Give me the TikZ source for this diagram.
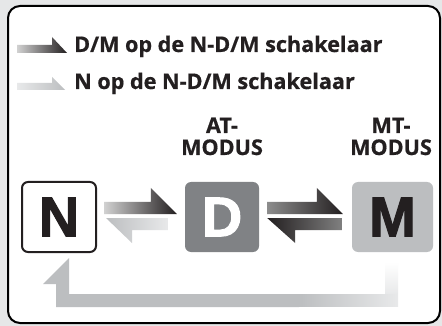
\documentclass[tikz,border=0pt]{standalone}
\usepackage{fontspec}
\setmainfont{Open Sans}[BoldFeatures={FakeBold=0.6}]
\newfontfamily\heavyfont{Liberation Sans}[BoldFeatures={FakeBold=1.8}]
\usetikzlibrary{calc}
\definecolor{ink}{HTML}{231F20}
\definecolor{dgray}{HTML}{808285}
\definecolor{lgray}{HTML}{BCBEC0}
\definecolor{bggray}{HTML}{E6E7E8}
\definecolor{fadegray}{HTML}{E8E9EA}
\begin{document}
\begin{tikzpicture}[x=1pt,y=-1pt,
  modebox/.style={minimum width=74pt, minimum height=70pt, rounded corners=6pt,
    inner sep=0pt, font=\heavyfont\bfseries\fontsize{56}{56}\selectfont},
  legendtext/.style={anchor=base west, inner sep=0pt, font=\bfseries\fontsize{21.6}{24}\selectfont, text=ink},
  modetext/.style={anchor=base, inner sep=0pt, font=\bfseries\fontsize{21.6}{24}\selectfont, text=ink},
  darkharp/.style={left color=black!18, right color=ink},
  grayharp/.style={left color=fadegray, right color=lgray}]
\useasboundingbox (0,0) rectangle (442,326);
\fill[bggray] (0,0) rectangle (442,326);
\draw[line width=2pt, fill=white, rounded corners=12pt] (8,6) rectangle (440,323);

% legend
\shade[darkharp] (17,45) -- (52,45) -- (52,37) -- (67,53) -- (17,53) -- cycle;
\node[legendtext] (L1) at (74,52) {D/M op de N-D/M schakelaar};
\shade[grayharp] (17,83) -- (52,83) -- (52,77) -- (65,90) -- (17,90) -- cycle;
\node[legendtext] (L2) at (74,89) {N op de N-D/M schakelaar};

% mode labels
\node[modetext] (ATa) at (222,133) {AT-};
\node[modetext] (ATb) at (222,155) {MODUS};
\node[modetext] (MTa) at (391,133) {MT-};
\node[modetext] (MTb) at (391,155) {MODUS};

% mode boxes
\node[modebox, draw=ink, line width=2pt, fill=white, text=ink] (N) at (59,217) {N};
\node[modebox, fill=dgray, text=white] (D) at (222,217) {D};
\node[modebox, minimum width=81pt, fill=lgray, text=ink] (M) at (392.5,217) {M};

% N -> D (dark)
\shade[darkharp]
  ($(N.east)+(7,-15)$) -- ($(D.west)+(-34,-15)$) -- ($(D.west)+(-34,-29)$)
  -- ($(D.west)+(-8,-3)$) -- ($(N.east)+(7,-3)$) -- cycle;
% D -> N (gray)
\shade[left color=lgray, right color=fadegray]
  ($(N.east)+(9,1)$) -- ($(D.west)+(-17,1)$) -- ($(D.west)+(-17,13)$)
  -- ($(N.east)+(35,13)$) -- ($(N.east)+(35,26)$) -- cycle;
% D -> M (dark)
\shade[left color=black!45, right color=ink]
  ($(D.east)+(8,-15)$) -- ($(M.west)+(-35,-15)$) -- ($(M.west)+(-35,-29)$)
  -- ($(M.west)+(-9,-3)$) -- ($(D.east)+(8,-3)$) -- cycle;
% M -> D (dark)
\shade[left color=ink, right color=black!50]
  ($(D.east)+(8,1)$) -- ($(M.west)+(-10,1)$) -- ($(M.west)+(-10,13)$)
  -- ($(D.east)+(36,13)$) -- ($(D.east)+(36,26)$) -- cycle;

% M -> N return (light gray)
\coordinate (R) at ($(N.south)!0.72!(M.south)$);
\fill[lgray]
  ($(N.south)+(-3,54)$) -- (R |- {$(N.south)+(0,54)$}) -- (R |- {$(N.south)+(0,41)$})
  -- ($(N.south)+(10,41)$) -- ($(N.south)+(10,5)$) -- ($(N.south)+(-16,31)$)
  -- ($(N.south)+(-3,31)$) -- cycle;
\shade[left color=lgray, right color=fadegray]
  ($(R |- {$(N.south)+(0,41)$})+(-0.5,0)$) rectangle ($(M.south)+(5.5,54)$);
\shade[top color=white, bottom color=fadegray]
  ($(M.south)+(-7.5,10)$) rectangle ($(M.south)+(5.5,41.3)$);
\end{tikzpicture}
\end{document}
